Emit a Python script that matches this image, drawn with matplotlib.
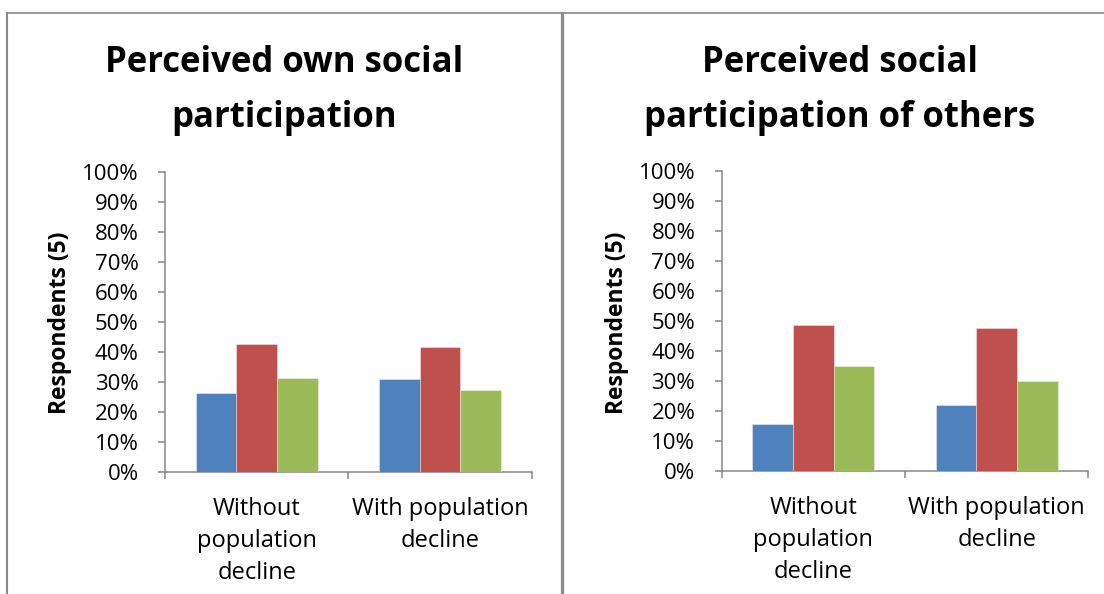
import matplotlib
matplotlib.use("Agg")
import matplotlib.pyplot as plt
from matplotlib.lines import Line2D
from matplotlib.ticker import FixedLocator
import numpy as np

# ---- data -------------------------------------------------------------
categories = ["Without\npopulation\ndecline", "With population\ndecline"]
yticks = [0, 10, 20, 30, 40, 50, 60, 70, 80, 90, 100]
ytick_labels = [f"{v}%" for v in yticks]

own_blue = [26.3, 31.0]
own_red = [42.6, 41.6]
own_green = [31.3, 27.2]

others_blue = [15.8, 22.0]
others_red = [48.7, 47.8]
others_green = [35.1, 30.0]

titles = ["Perceived own social\nparticipation",
          "Perceived social\nparticipation of others"]
ylabel = "Respondents (5)"

# ---- style ------------------------------------------------------------
plt.rcParams["font.family"] = ["Open Sans", "DejaVu Sans"]
bar_colors = ["#4F81BD", "#C0504D", "#9BBB59"]
axis_grey = "#868686"
W, H = 1104, 594
fig = plt.figure(figsize=(W / 100, H / 100), dpi=100)
fig.patch.set_facecolor("white")

CAT_LINE_STEP = 32      # px between category label lines
CAT_FIRST_BASE = 43.5   # px from x axis to first label baseline
PX_TO_PT = 72 / 100


def fx(px):
    return px / W


def fy(py):
    return 1 - py / H


def draw_panel(x0, x1, y_top, y_bot, title, title_cx, series):
    ax = fig.add_axes([fx(x0), fy(y_bot), (x1 - x0) / W, (y_bot - y_top) / H])
    x = np.arange(len(categories))
    w = 1 / 4.5
    for k, (vals, col) in enumerate(zip(series, bar_colors)):
        ax.bar(x + (k - 1) * w, vals, width=w, color=col,
               edgecolor=(1, 1, 1, 0.45), linewidth=0.6, zorder=3)
    ax.set_xlim(-0.5, len(categories) - 0.5)
    ax.set_ylim(0, 100)
    ax.yaxis.set_major_locator(FixedLocator(yticks))
    ax.set_yticklabels(ytick_labels)
    ax.xaxis.set_major_locator(FixedLocator(np.arange(len(categories) + 1) - 0.5))
    ax.set_xticklabels([])
    for s in ("top", "right"):
        ax.spines[s].set_visible(False)
    for s in ("left", "bottom"):
        ax.spines[s].set_color(axis_grey)
        ax.spines[s].set_linewidth(1.1)
    ax.tick_params(axis="y", direction="out", length=5, width=1.1,
                   color=axis_grey, labelsize=16, pad=14, labelcolor="black")
    ax.tick_params(axis="x", direction="out", length=5, width=1.1,
                   color=axis_grey)
    ax.patch.set_alpha(0)

    # category labels below the axis; anchored on the last line's baseline
    for xi, lab in zip(x, categories):
        n = lab.count("\n")
        drop_px = CAT_FIRST_BASE + n * CAT_LINE_STEP
        ax.annotate(lab, xy=(xi, 0), xycoords="data",
                    xytext=(0, -drop_px * PX_TO_PT), textcoords="offset points",
                    ha="center", va="baseline", fontsize=17, linespacing=1.45,
                    annotation_clip=False)

    # vertical axis title
    fig.text(fx(x0 - 99), fy((y_top + y_bot) / 2 + 1.5), ylabel, rotation=90,
             rotation_mode="anchor", ha="center", va="baseline",
             fontsize=16.5, fontweight="bold")

    # chart title, anchored on the baseline of its second line
    fig.text(fx(title_cx), fy(127), title, ha="center", va="baseline",
             fontsize=25, fontweight="bold", linespacing=1.72,
             multialignment="center")
    return ax


draw_panel(165, 531.7, 171.7, 471.7, titles[0], 284,
           [own_blue, own_red, own_green])
draw_panel(721.7, 1088.3, 171, 471, titles[1], 840,
           [others_blue, others_red, others_green])

# frame lines around and between the two charts
frame = "#8a8a8a"
fig.add_artist(Line2D([fx(7), 1], [fy(12.5)] * 2, color=frame, lw=1.2))
fig.add_artist(Line2D([fx(7)] * 2, [0, fy(12.5)], color=frame, lw=1.5))
fig.add_artist(Line2D([fx(561.5)] * 2, [0, fy(12.5)], color=frame, lw=2.3))

fig.savefig("out.png", dpi=100, facecolor="white")
